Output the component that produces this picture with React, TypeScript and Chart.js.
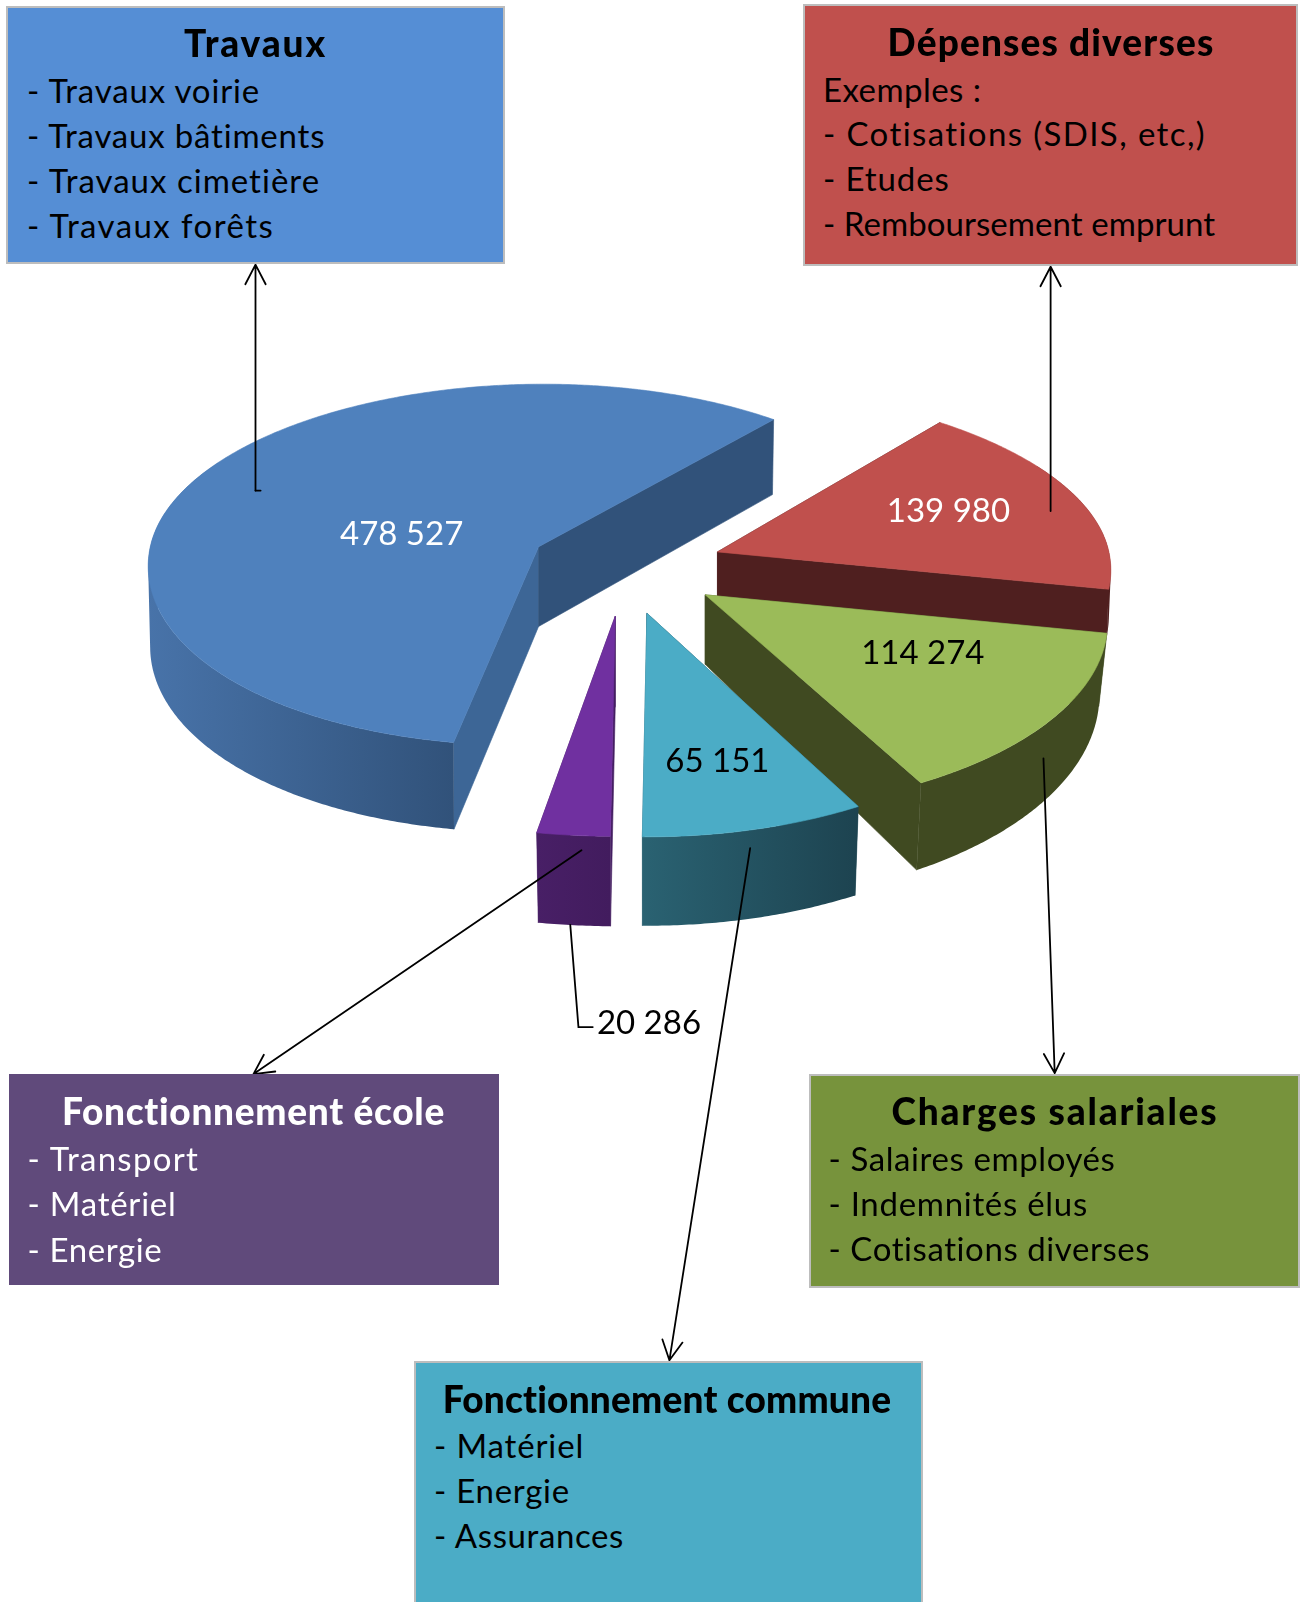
import React, { useEffect, useRef } from "react";
import { Chart, registerables } from "chart.js";

Chart.register(...registerables);

const categories = ["Travaux", "Dépenses diverses", "Charges salariales", "Fonctionnement commune", "Fonctionnement école"];
const amounts = [478527, 139980, 114274, 65151, 20286];
const topColors = ["#4f81bd", "#c0504d", "#9bbb59", "#4bacc6", "#7030a0"];
const edgeColors = [["#3d6696", "#31527a"], ["#4f1f1f", "#4f1f1f"], ["#404a21", "#404a21"], ["#1f4653", "#2a6070"], ["#441e62", "#441e62"]];
const wallColors = [["#4873a9", "#31527a"], ["#4f1f1f", "#4f1f1f"], ["#404a21", "#404a21"], ["#2a6272", "#1d4350"], ["#481f66", "#421c5e"]];
const labelColors = ["#ffffff", "#ffffff", "#000000", "#000000", "#000000"];

const FONT = "Lato, 'Open Sans', sans-serif";
const S = 1301 / 1273;

// Projection of each slice: apex on screen (shrunk-picture px), width factor, depth ry, perspective k, wall depth, wall exponent
const apex = [[527, 535], [702, 540], [690, 582], [633, 600], [602, 603]];
const widthFactor = [0.992, 1, 1.016, 0.995, 1.036];
const flatten = [175, 178, 181, 186, 183];
const perspective = [0.1, 0.1, 0.15, 0.15, 0.15];
const wallDepth = [78, 45, 68, 87, 88];
const wallExp = [0.82, 0, 1.6, 0, 0];
const wallInset = [0.995, 0.995, 0.98, 0.985, 0.98];
const skewFront = [-14, 0, 0, 0, 0];
const skewBack = [5, -19, 0, 0, 0];
const labelAt = [[393, 522], [928, 499], [903, 638], [702, 744], [635, 1000]];

const arrows = [
  [[250, 480], [250, 259]],
  [[1028, 500], [1028, 261]],
  [[569, 832], [248, 1051]],
  [[734, 830], [655, 1331]],
  [[1021, 742], [1032, 1050]],
];

const formatAmount = (v: number) => String(v).replace(/\B(?=(\d{3})+$)/g, " ");

const pie3d = {
  id: "pie3d",
  beforeDatasetDraw(chart: any) {
    const ctx = chart.ctx;
    const arcs = chart.getDatasetMeta(0).data;
    arcs.forEach((el: any, i: number) => {
      const R = el.outerRadius * widthFactor[i];
      const ax = apex[i][0] * S, ay = apex[i][1] * S;
      const ry = flatten[i] * S, k = perspective[i];
      const project = (a: number) => {
        const X = Math.cos(a), Y = Math.sin(a), w = 1 - k * Y;
        const skew = (Y > 0 ? skewFront[i] : skewBack[i]) * Y * Y * S;
        const x = ax + (R * X) / w + skew, y = ay + (ry * Y) / w;
        const d = (wallDepth[i] * S) / Math.pow(w, wallExp[i]);
        return { x, y, Y, bx: ax + (x - ax) * wallInset[i], by: y + d };
      };
      const n = Math.max(8, Math.ceil(((el.endAngle - el.startAngle) * 180) / Math.PI / 0.5));
      const pts: any[] = [];
      for (let j = 0; j <= n; j++) pts.push(project(el.startAngle + ((el.endAngle - el.startAngle) * j) / n));
      const d0 = wallDepth[i] * S;
      const poly = (p: number[][], fill: any) => {
        ctx.beginPath();
        p.forEach((q, m) => (m ? ctx.lineTo(q[0], q[1]) : ctx.moveTo(q[0], q[1])));
        ctx.closePath();
        ctx.fillStyle = fill;
        ctx.fill();
        ctx.strokeStyle = fill;
        ctx.lineWidth = 0.6;
        ctx.stroke();
      };
      // radial faces
      const s = pts[0], e = pts[pts.length - 1];
      poly([[ax, ay], [s.x, s.y], [s.bx, s.by], [ax, ay + d0]], edgeColors[i][0]);
      poly([[ax, ay], [e.x, e.y], [e.bx, e.by], [ax, ay + d0]], edgeColors[i][1]);
      // outer wall: one path of equally oriented quads, so the fold at the far left fills solid
      const front = pts.filter((p) => p.Y > -0.5);
      const fx = front.map((p) => p.x);
      const grad = ctx.createLinearGradient(Math.min(...fx), 0, Math.max(...fx), 0);
      grad.addColorStop(0, wallColors[i][0]);
      grad.addColorStop(1, wallColors[i][1]);
      ctx.beginPath();
      for (let j = 0; j + 1 < front.length; j++) {
        const p = front[j], q = front[j + 1];
        let quad = [[p.x, p.y], [q.x, q.y], [q.bx, q.by], [p.bx, p.by]];
        const area = quad.reduce((acc, c, m) => {
          const nx = quad[(m + 1) % 4];
          return acc + c[0] * nx[1] - nx[0] * c[1];
        }, 0);
        if (area < 0) quad = quad.reverse();
        quad.forEach((c, m) => (m ? ctx.lineTo(c[0], c[1]) : ctx.moveTo(c[0], c[1])));
        ctx.closePath();
      }
      ctx.fillStyle = grad;
      ctx.fill();
      // top
      poly([[ax, ay], ...pts.map((p) => [p.x, p.y])], el.options.backgroundColor);
    });
    return false;
  },
  afterDraw(chart: any) {
    const ctx = chart.ctx;
    ctx.save();
    ctx.strokeStyle = "#000";
    ctx.lineWidth = 1.8;
    ctx.lineCap = "round";
    arrows.forEach(([a, b]) => {
      const x1 = a[0] * S, y1 = a[1] * S, x2 = b[0] * S, y2 = b[1] * S;
      const t = Math.atan2(y2 - y1, x2 - x1);
      ctx.beginPath();
      ctx.moveTo(x1, y1);
      ctx.lineTo(x2, y2);
      [-0.48, 0.48].forEach((o) => {
        ctx.moveTo(x2, y2);
        ctx.lineTo(x2 - 22 * Math.cos(t + o), y2 - 22 * Math.sin(t + o));
      });
      ctx.stroke();
    });
    ctx.beginPath();
    ctx.moveTo(250 * S, 480 * S);
    ctx.lineTo(255 * S, 480 * S);
    ctx.moveTo(558 * S, 905 * S);
    ctx.lineTo(566 * S, 1005 * S);
    ctx.lineTo(580 * S, 1005 * S);
    ctx.stroke();
    ctx.font = `33px ${FONT}`;
    ctx.textAlign = "center";
    ctx.textBaseline = "middle";
    amounts.forEach((v, i) => {
      ctx.fillStyle = labelColors[i];
      ctx.fillText(formatAmount(v), labelAt[i][0] * S, labelAt[i][1] * S + 1);
    });
    ctx.restore();
  },
};

const travauxLines = ["- Travaux voirie", "- Travaux bâtiments", "- Travaux cimetière", "- Travaux forêts"];
const depensesLines = ["Exemples :", "- Cotisations (SDIS, etc,)", "- Etudes", "- Remboursement emprunt"];
const ecoleLines = ["- Transport", "- Matériel", "- Energie"];
const chargesLines = ["- Salaires employés", "- Indemnités élus", "- Cotisations diverses"];
const communeLines = ["- Matériel", "- Energie", "- Assurances"];

// Widths of the printed lines in the picture (shrunk px), used to fit the replacement font's spacing
const travauxWidths = [230, 293, 288, 243];
const depensesWidths = [155, 375, 124, 384];
const ecoleWidths = [169, 146, 132];
const chargesWidths = [281, 254, 315];
const communeWidths = [147, 133, 187];

const boxes = [
  { title: "Travaux", lines: travauxLines, widths: travauxWidths, tw: 140, fill: "#558ed5", border: true, x: 6, y: 6, w: 499, h: 258, cx: 255.5, tb: 56, tx: 27, lb: [101.5, 146.5, 191.5, 236.5] },
  { title: "Dépenses diverses", lines: depensesLines, widths: depensesWidths, tw: 320, fill: "#c0504d", border: true, x: 803, y: 4, w: 495, h: 262, cx: 1051, tb: 55, tx: 823, lb: [100.5, 145, 190, 235] },
  { title: "Fonctionnement école", lines: ecoleLines, widths: ecoleWidths, tw: 375, fill: "#604a7b", border: false, x: 9, y: 1074, w: 490, h: 211, cx: 253.5, tb: 1124.5, tx: 27.5, lb: [1170, 1215, 1260.5] },
  { title: "Charges salariales", lines: chargesLines, widths: chargesWidths, tw: 320, fill: "#77933c", border: true, x: 809, y: 1074, w: 491, h: 214, cx: 1055, tb: 1124.5, tx: 828.5, lb: [1170, 1215, 1260] },
  { title: "Fonctionnement commune", lines: communeLines, widths: communeWidths, tw: 439, fill: "#4bacc6", border: true, x: 414, y: 1361, w: 509, h: 260, cx: 667, tb: 1412, tx: 434, lb: [1457, 1502, 1547] },
];

const measurer = document.createElement("canvas").getContext("2d") as any;
const fitSpacing = (text: string, size: number, bold: boolean, width: number) => {
  measurer.font = `${bold ? "900 " : ""}${size}px ${FONT}`;
  measurer.letterSpacing = "0.01px";
  const m = measurer.measureText(text).width;
  return (width * S - m) / text.length;
};

const LH = 40;
const Text = ({ x, base, size, bold, center, color, width, children }: any) => (
  <div
    style={{
      position: "absolute",
      left: center ? x - 400 : x,
      width: center ? 800 : undefined,
      top: base - LH / 2 - size * 0.36,
      lineHeight: `${LH}px`,
      fontSize: size,
      fontWeight: bold ? 900 : 400,
      letterSpacing: fitSpacing(String(children), size, !!bold, width),
      textAlign: center ? "center" : "left",
      whiteSpace: "pre",
      color,
      fontFamily: FONT,
    }}
  >
    {children}
  </div>
);

export default function App() {
  const ref = useRef<HTMLCanvasElement | null>(null);
  useEffect(() => {
    const chart = new Chart(ref.current as HTMLCanvasElement, {
      type: "pie",
      data: {
        labels: categories,
        datasets: [{ data: amounts, backgroundColor: topColors, borderWidth: 0 }],
      },
      options: {
        responsive: false,
        animation: false,
        rotation: 189.5,
        radius: 383 * S,
        plugins: { legend: { display: false }, tooltip: { enabled: false } },
      },
      plugins: [pie3d],
    } as any);
    return () => chart.destroy();
  }, []);
  return (
    <div style={{ position: "fixed", left: 0, top: 0, width: 1301, height: 1602, overflow: "hidden", background: "#fff" }}>
      <canvas ref={ref} width={1301} height={1602} style={{ position: "absolute", left: 0, top: 0 }} />
      {boxes.map((b) => {
        const ink = b.fill === "#604a7b" ? "#fff" : "#000";
        return (
          <React.Fragment key={b.title}>
            <div
              style={{
                position: "absolute",
                left: b.x,
                top: b.y,
                width: b.w,
                height: b.h,
                boxSizing: "border-box",
                background: b.fill,
                border: b.border ? "2px solid #bdbdbd" : "none",
              }}
            />
            <Text x={b.cx} base={b.tb} size={37} bold center color={ink} width={b.tw}>
              {b.title}
            </Text>
            {b.lines.map((l, i) => (
              <Text key={l} x={b.tx} base={b.lb[i]} size={33} color={ink} width={b.widths[i]}>
                {l}
              </Text>
            ))}
          </React.Fragment>
        );
      })}
    </div>
  );
}
